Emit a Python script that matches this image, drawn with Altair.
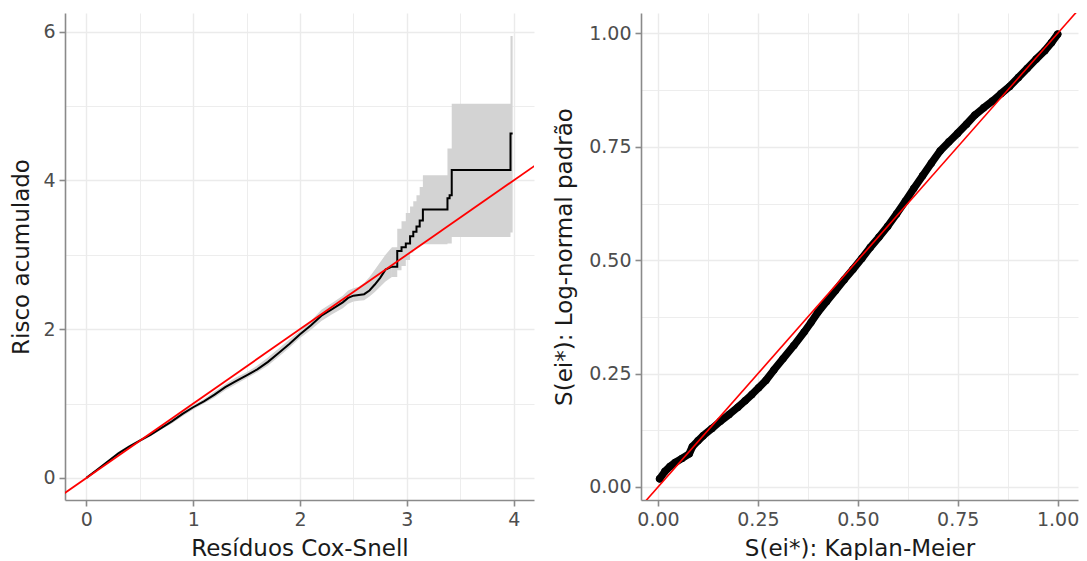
import altair as alt
import pandas as pd

# ---------------- Left panel: Cox-Snell residuals ----------------
# smooth (dense) part of the Nelson-Aalen curve
cs_x = [0.00, 0.10, 0.20, 0.30, 0.40, 0.50, 0.60, 0.70, 0.80, 0.90, 1.00, 1.10, 1.20,
        1.30, 1.40, 1.50, 1.60, 1.70, 1.80, 1.90, 2.00, 2.10, 2.20, 2.30, 2.40, 2.45,
        2.50, 2.55, 2.60, 2.65, 2.70, 2.75, 2.80, 2.86]
cs_y = [0.00, 0.11, 0.22, 0.33, 0.42, 0.50, 0.58, 0.67, 0.76, 0.86, 0.95, 1.03, 1.12,
        1.22, 1.30, 1.38, 1.46, 1.56, 1.68, 1.80, 1.93, 2.05, 2.18, 2.27, 2.36, 2.42,
        2.45, 2.46, 2.47, 2.52, 2.60, 2.69, 2.80, 2.84]
cs_lo = [0.00, 0.10, 0.21, 0.31, 0.40, 0.48, 0.56, 0.65, 0.73, 0.83, 0.92, 1.00, 1.08,
         1.18, 1.26, 1.34, 1.42, 1.51, 1.63, 1.75, 1.88, 1.99, 2.11, 2.20, 2.28, 2.34,
         2.37, 2.38, 2.39, 2.44, 2.50, 2.57, 2.64, 2.70]
cs_hi = [0.00, 0.12, 0.23, 0.35, 0.44, 0.52, 0.60, 0.69, 0.79, 0.89, 0.98, 1.06, 1.16,
         1.26, 1.35, 1.42, 1.51, 1.62, 1.74, 1.86, 1.98, 2.11, 2.26, 2.35, 2.45, 2.52,
         2.55, 2.57, 2.62, 2.70, 2.80, 2.90, 3.00, 3.10]
# sparse tail, drawn as steps
tail_x = [2.86, 2.91, 2.95, 2.99, 3.03, 3.06, 3.09, 3.12, 3.15, 3.38, 3.40, 3.42, 3.97, 3.99]
tail_y = [2.84, 3.05, 3.10, 3.15, 3.25, 3.31, 3.38, 3.46, 3.61, 3.76, 3.80, 4.14, 4.63, 4.63]
tail_lo = [2.70, 2.79, 2.85, 2.93, 3.03, 3.08, 3.10, 3.13, 3.14, 3.15, 3.15, 3.24, 3.30, 3.30]
tail_hi = [3.10, 3.35, 3.45, 3.56, 3.65, 3.72, 3.80, 3.91, 4.07, 4.43, 4.43, 5.03, 5.94, 5.94]

# ---------------- Right panel: KM vs log-normal survival ----------------
km_x = [0.004, 0.017, 0.030, 0.043, 0.060, 0.078, 0.086, 0.100, 0.113, 0.135, 0.156,
        0.178, 0.200, 0.218, 0.235, 0.252, 0.270, 0.290, 0.313, 0.340, 0.366, 0.383,
        0.400, 0.422, 0.444, 0.466, 0.488, 0.510, 0.531, 0.553, 0.575, 0.597, 0.619,
        0.640, 0.662, 0.684, 0.706, 0.728, 0.750, 0.772, 0.793, 0.815, 0.837, 0.858,
        0.880, 0.902, 0.924, 0.946, 0.968, 0.985, 1.000]
ln_y = [0.018, 0.034, 0.045, 0.054, 0.063, 0.073, 0.089, 0.102, 0.113, 0.129, 0.145,
        0.160, 0.176, 0.190, 0.204, 0.219, 0.235, 0.258, 0.283, 0.312, 0.342, 0.363,
        0.385, 0.409, 0.433, 0.457, 0.480, 0.504, 0.528, 0.551, 0.575, 0.602, 0.630,
        0.658, 0.686, 0.714, 0.741, 0.761, 0.780, 0.800, 0.820, 0.836, 0.851, 0.867,
        0.883, 0.903, 0.923, 0.943, 0.962, 0.980, 0.998]

ref_left = [-0.5, 4.5]
ref_right = [-0.1, 1.1]

FONT = "DejaVu Sans"

df_smooth = pd.DataFrame({"x": cs_x, "y": cs_y, "lo": cs_lo, "hi": cs_hi})
df_tail = pd.DataFrame({"x": tail_x, "y": tail_y, "lo": tail_lo, "hi": tail_hi})
df_ref_l = pd.DataFrame({"x": ref_left, "y": ref_left})
df_km = pd.DataFrame({"x": km_x, "y": ln_y})
df_ref_r = pd.DataFrame({"x": ref_right, "y": ref_right})


def grid_w(test):
    return {"condition": {"test": test, "value": 0.9}, "value": 1.4}


def tick_op(test):
    return {"condition": {"test": test, "value": 0}, "value": 1}


# Left encodings
lx_test = "datum.value % 1 != 0"
ly_test = "datum.value % 2 != 0"
LX_AXIS = alt.Axis(values=[0, 0.5, 1, 1.5, 2, 2.5, 3, 3.5, 4], title="Resíduos Cox-Snell",
                   format=".0f",
                   labelExpr=f"({lx_test}) ? '' : datum.label", labelOverlap=False,
                   gridWidth=grid_w(lx_test), tickOpacity=tick_op(lx_test))
LY_AXIS = alt.Axis(values=[0, 1, 2, 3, 4, 5, 6], title="Risco acumulado", format=".0f",
                   titlePadding=9,
                   labelExpr=f"({ly_test}) ? '' : datum.label", labelOverlap=False,
                   gridWidth=grid_w(ly_test), tickOpacity=tick_op(ly_test))
LX_SCALE = alt.Scale(domain=[-0.2, 4.19], nice=False, zero=False)
LY_SCALE = alt.Scale(domain=[-0.297, 6.25], nice=False, zero=False)


def lx():
    return alt.X("x:Q", scale=LX_SCALE, axis=LX_AXIS)


def ly(field="y"):
    return alt.Y(f"{field}:Q", scale=LY_SCALE, axis=LY_AXIS)


BAND = "#D3D3D3"
band1 = alt.Chart(df_smooth).mark_area(color=BAND, clip=True).encode(
    x=lx(), y=ly("lo"), y2="hi:Q")
band2 = alt.Chart(df_tail).mark_area(color=BAND, interpolate="step-after", clip=True).encode(
    x=lx(), y=ly("lo"), y2="hi:Q")
line1 = alt.Chart(df_smooth).mark_line(color="black", strokeWidth=2).encode(x=lx(), y=ly())
line2 = alt.Chart(df_tail).mark_line(color="black", strokeWidth=2, interpolate="step-after").encode(
    x=lx(), y=ly())
red_l = alt.Chart(df_ref_l).mark_line(color="#FF0000", strokeWidth=1.8, clip=True).encode(
    x=lx(), y=ly())

left = alt.layer(band1, band2, line1, line2, red_l).properties(width=469, height=487)

# Right encodings
r_test = "(datum.value * 8) % 2 != 0"
R_VALUES = [0, 0.125, 0.25, 0.375, 0.5, 0.625, 0.75, 0.875, 1]
RX_AXIS = alt.Axis(values=R_VALUES, title="S(ei*): Kaplan-Meier", format=".2f",
                   labelExpr=f"({r_test}) ? '' : datum.label", labelOverlap=False,
                   gridWidth=grid_w(r_test), tickOpacity=tick_op(r_test))
RY_AXIS = alt.Axis(values=R_VALUES, title="S(ei*): Log-normal padrão", format=".2f",
                   titlePadding=12.5,
                   labelExpr=f"({r_test}) ? '' : datum.label", labelOverlap=False,
                   gridWidth=grid_w(r_test), tickOpacity=tick_op(r_test))
RX_SCALE = alt.Scale(domain=[-0.0426, 1.051], nice=False, zero=False)
RY_SCALE = alt.Scale(domain=[-0.0287, 1.045], nice=False, zero=False)


def rx():
    return alt.X("x:Q", scale=RX_SCALE, axis=RX_AXIS)


def ry():
    return alt.Y("y:Q", scale=RY_SCALE, axis=RY_AXIS)


km_line = alt.Chart(df_km).mark_line(color="black", strokeWidth=7.5, strokeCap="round",
                                     strokeJoin="round").encode(x=rx(), y=ry())
km_pts = alt.Chart(df_km).mark_circle(color="black", size=55, opacity=1).encode(x=rx(), y=ry())
red_r = alt.Chart(df_ref_r).mark_line(color="#FF0000", strokeWidth=1.6, clip=True).encode(
    x=rx(), y=ry())

right = alt.layer(km_line, km_pts, red_r).properties(width=437, height=487)

chart = alt.hconcat(left, right, spacing=19).properties(
    padding={"left": 10, "top": 13, "right": 0, "bottom": 0},
    background="white",
).configure_axis(
    domainColor="#8A8A8A", domainWidth=1.6, tickColor="#8A8A8A", tickWidth=1.6, tickSize=6,
    gridColor="#EBEBEB",
    labelFont=FONT, labelFontSize=19, labelColor="#4D4D4D", labelPadding=4,
    titleFont=FONT, titleFontSize=23, titleFontWeight="normal", titleColor="#1A1A1A",
    titlePadding=8,
).configure_view(stroke=None)

chart.save("out.html", embed_options={"renderer": "svg", "actions": False})
